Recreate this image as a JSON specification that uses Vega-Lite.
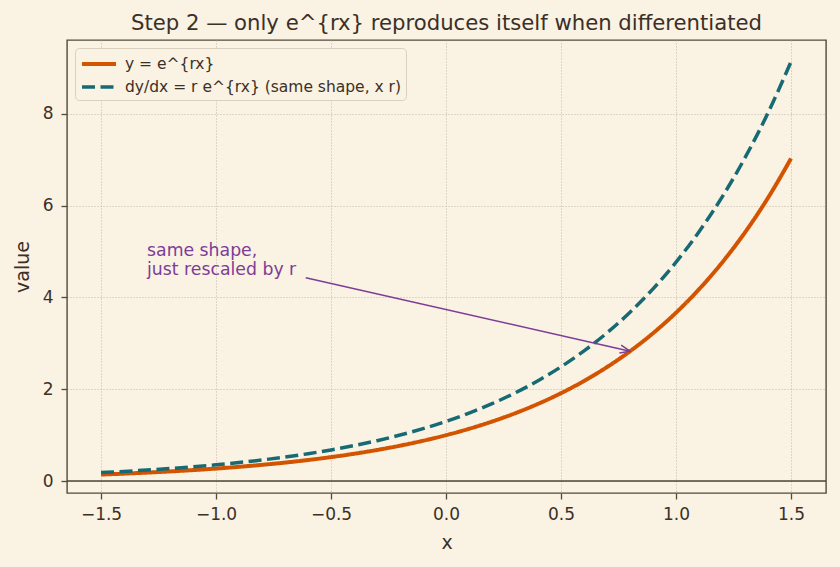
{
  "$schema": "https://vega.github.io/schema/vega-lite/v6.json",
  "autosize": "none",
  "width": 759,
  "height": 453,
  "padding": {"left": 67, "top": 40, "right": 14, "bottom": 74},
  "background": "#faf2e2",
  "config": {
    "font": "DejaVu Sans",
    "view": {"fill": "#faf2e2", "stroke": "#54483b", "strokeWidth": 1.4},
    "axis": {
      "domain": false,
      "tickColor": "#54483b",
      "tickSize": 6,
      "tickWidth": 1.3,
      "labelColor": "#3a3028",
      "labelFontSize": 17,
      "labelPadding": 7,
      "titleColor": "#3a3028",
      "titleFontSize": 19,
      "titleFontWeight": "normal",
      "gridColor": "#b4aa98",
      "gridDash": [1, 2],
      "gridWidth": 0.8
    }
  },
  "title": {
    "text": "Step 2 — only e^{rx} reproduces itself when differentiated",
    "fontSize": 21.2,
    "fontWeight": "normal",
    "color": "#3a3028",
    "offset": 6
  },
  "datasets": {
    "curves": [
      {"x": -1.5, "series": "y = e^{rx}", "value": 0.1423},
      {"x": -1.4, "series": "y = e^{rx}", "value": 0.1620},
      {"x": -1.3, "series": "y = e^{rx}", "value": 0.1845},
      {"x": -1.2, "series": "y = e^{rx}", "value": 0.2101},
      {"x": -1.1, "series": "y = e^{rx}", "value": 0.2393},
      {"x": -1.0, "series": "y = e^{rx}", "value": 0.2725},
      {"x": -0.9, "series": "y = e^{rx}", "value": 0.3104},
      {"x": -0.8, "series": "y = e^{rx}", "value": 0.3535},
      {"x": -0.7, "series": "y = e^{rx}", "value": 0.4025},
      {"x": -0.6, "series": "y = e^{rx}", "value": 0.4584},
      {"x": -0.5, "series": "y = e^{rx}", "value": 0.5220},
      {"x": -0.4, "series": "y = e^{rx}", "value": 0.5945},
      {"x": -0.3, "series": "y = e^{rx}", "value": 0.6771},
      {"x": -0.2, "series": "y = e^{rx}", "value": 0.7711},
      {"x": -0.1, "series": "y = e^{rx}", "value": 0.8781},
      {"x": 0.0, "series": "y = e^{rx}", "value": 1.0},
      {"x": 0.1, "series": "y = e^{rx}", "value": 1.1388},
      {"x": 0.2, "series": "y = e^{rx}", "value": 1.2969},
      {"x": 0.3, "series": "y = e^{rx}", "value": 1.4770},
      {"x": 0.4, "series": "y = e^{rx}", "value": 1.6820},
      {"x": 0.5, "series": "y = e^{rx}", "value": 1.9155},
      {"x": 0.6, "series": "y = e^{rx}", "value": 2.1815},
      {"x": 0.7, "series": "y = e^{rx}", "value": 2.4843},
      {"x": 0.8, "series": "y = e^{rx}", "value": 2.8292},
      {"x": 0.9, "series": "y = e^{rx}", "value": 3.2220},
      {"x": 1.0, "series": "y = e^{rx}", "value": 3.6693},
      {"x": 1.1, "series": "y = e^{rx}", "value": 4.1787},
      {"x": 1.2, "series": "y = e^{rx}", "value": 4.7588},
      {"x": 1.3, "series": "y = e^{rx}", "value": 5.4195},
      {"x": 1.4, "series": "y = e^{rx}", "value": 6.1719},
      {"x": 1.5, "series": "y = e^{rx}", "value": 7.0287},
      {"x": -1.5, "series": "dy/dx = r e^{rx} (same shape, x r)", "value": 0.1850},
      {"x": -1.4, "series": "dy/dx = r e^{rx} (same shape, x r)", "value": 0.2106},
      {"x": -1.3, "series": "dy/dx = r e^{rx} (same shape, x r)", "value": 0.2399},
      {"x": -1.2, "series": "dy/dx = r e^{rx} (same shape, x r)", "value": 0.2731},
      {"x": -1.1, "series": "dy/dx = r e^{rx} (same shape, x r)", "value": 0.3111},
      {"x": -1.0, "series": "dy/dx = r e^{rx} (same shape, x r)", "value": 0.3543},
      {"x": -0.9, "series": "dy/dx = r e^{rx} (same shape, x r)", "value": 0.4035},
      {"x": -0.8, "series": "dy/dx = r e^{rx} (same shape, x r)", "value": 0.4596},
      {"x": -0.7, "series": "dy/dx = r e^{rx} (same shape, x r)", "value": 0.5233},
      {"x": -0.6, "series": "dy/dx = r e^{rx} (same shape, x r)", "value": 0.5959},
      {"x": -0.5, "series": "dy/dx = r e^{rx} (same shape, x r)", "value": 0.6786},
      {"x": -0.4, "series": "dy/dx = r e^{rx} (same shape, x r)", "value": 0.7729},
      {"x": -0.3, "series": "dy/dx = r e^{rx} (same shape, x r)", "value": 0.8802},
      {"x": -0.2, "series": "dy/dx = r e^{rx} (same shape, x r)", "value": 1.0024},
      {"x": -0.1, "series": "dy/dx = r e^{rx} (same shape, x r)", "value": 1.1415},
      {"x": 0.0, "series": "dy/dx = r e^{rx} (same shape, x r)", "value": 1.3},
      {"x": 0.1, "series": "dy/dx = r e^{rx} (same shape, x r)", "value": 1.4804},
      {"x": 0.2, "series": "dy/dx = r e^{rx} (same shape, x r)", "value": 1.6860},
      {"x": 0.3, "series": "dy/dx = r e^{rx} (same shape, x r)", "value": 1.9201},
      {"x": 0.4, "series": "dy/dx = r e^{rx} (same shape, x r)", "value": 2.1866},
      {"x": 0.5, "series": "dy/dx = r e^{rx} (same shape, x r)", "value": 2.4902},
      {"x": 0.6, "series": "dy/dx = r e^{rx} (same shape, x r)", "value": 2.8360},
      {"x": 0.7, "series": "dy/dx = r e^{rx} (same shape, x r)", "value": 3.2296},
      {"x": 0.8, "series": "dy/dx = r e^{rx} (same shape, x r)", "value": 3.6780},
      {"x": 0.9, "series": "dy/dx = r e^{rx} (same shape, x r)", "value": 4.1886},
      {"x": 1.0, "series": "dy/dx = r e^{rx} (same shape, x r)", "value": 4.7701},
      {"x": 1.1, "series": "dy/dx = r e^{rx} (same shape, x r)", "value": 5.4323},
      {"x": 1.2, "series": "dy/dx = r e^{rx} (same shape, x r)", "value": 6.1864},
      {"x": 1.3, "series": "dy/dx = r e^{rx} (same shape, x r)", "value": 7.0454},
      {"x": 1.4, "series": "dy/dx = r e^{rx} (same shape, x r)", "value": 8.0235},
      {"x": 1.5, "series": "dy/dx = r e^{rx} (same shape, x r)", "value": 9.1373}
    ],
    "arrow": [
      {"x": -0.61, "value": 4.43, "x_end": 0.8, "value_end": 2.83}
    ],
    "note": [
      {"x": -1.3, "value": 4.5, "label": ["same shape,", "just rescaled by r"]}
    ]
  },
  "layer": [
    {
      "data": {"values": [{"value": 0}]},
      "mark": {"type": "rule", "color": "#4d4238", "strokeWidth": 1.4},
      "encoding": {
        "y": {"field": "value", "type": "quantitative", "scale": {"domain": [-0.26, 9.61], "nice": false}}
      }
    },
    {
      "data": {"name": "curves"},
      "mark": {"type": "line", "interpolate": "monotone", "strokeCap": "butt"},
      "encoding": {
        "x": {
          "field": "x", "type": "quantitative",
          "scale": {"domain": [-1.648, 1.652], "nice": false, "zero": false},
          "axis": {"values": [-1.5, -1.0, -0.5, 0.0, 0.5, 1.0, 1.5], "format": ".1f", "title": "x", "titlePadding": 11}
        },
        "y": {
          "field": "value", "type": "quantitative",
          "scale": {"domain": [-0.26, 9.61], "nice": false},
          "axis": {"values": [0, 2, 4, 6, 8], "format": "d", "title": "value", "titlePadding": 10, "labelPadding": 8}
        },
        "color": {
          "field": "series", "type": "nominal",
          "scale": {"domain": ["y = e^{rx}", "dy/dx = r e^{rx} (same shape, x r)"], "range": ["#d35400", "#176a74"]},
          "legend": {
            "title": null, "orient": "none", "legendX": 8, "legendY": 8,
            "fillColor": "#faf2e2", "strokeColor": "#d9d0c0", "cornerRadius": 4,
            "padding": 4, "symbolType": "M -1.7 0 L 1.7 0", "symbolSize": 400,
            "symbolOffset": 8, "symbolStrokeWidth": 3.8, "labelFontSize": 15.5, "labelColor": "#3a3028",
            "labelLimit": 0, "rowPadding": 2, "labelOffset": 14
          }
        },
        "strokeDash": {
          "field": "series", "type": "nominal",
          "scale": {"domain": ["y = e^{rx}", "dy/dx = r e^{rx} (same shape, x r)"], "range": [[1, 0], [13, 5.5]]},
          "legend": {
            "title": null, "orient": "none", "legendX": 8, "legendY": 8,
            "fillColor": "#faf2e2", "strokeColor": "#d9d0c0", "cornerRadius": 4,
            "padding": 4, "symbolType": "M -1.7 0 L 1.7 0", "symbolSize": 400,
            "symbolOffset": 8, "symbolStrokeWidth": 3.8, "labelFontSize": 15.5, "labelColor": "#3a3028",
            "labelLimit": 0, "rowPadding": 2, "labelOffset": 14
          }
        },
        "strokeWidth": {
          "field": "series", "type": "nominal",
          "scale": {"domain": ["y = e^{rx}", "dy/dx = r e^{rx} (same shape, x r)"], "range": [4, 3.5]},
          "legend": null
        }
      }
    },
    {
      "data": {"name": "arrow"},
      "mark": {"type": "rule", "color": "#7d3c98", "strokeWidth": 1.5},
      "encoding": {
        "x": {"field": "x", "type": "quantitative"},
        "y": {"field": "value", "type": "quantitative"},
        "x2": {"field": "x_end"},
        "y2": {"field": "value_end"}
      }
    },
    {
      "data": {"name": "arrow"},
      "mark": {
        "type": "point",
        "shape": "M -2 -0.8 L 0 0 L -2 0.8",
        "filled": false,
        "color": "#7d3c98",
        "strokeWidth": 1.5,
        "size": 100,
        "angle": 12.4,
        "opacity": 1
      },
      "encoding": {
        "x": {"field": "x_end", "type": "quantitative"},
        "y": {"field": "value_end", "type": "quantitative"}
      }
    },
    {
      "data": {"name": "note"},
      "mark": {"type": "text", "align": "left", "baseline": "alphabetic", "dy": -19, "fontSize": 17.3, "lineHeight": 19, "color": "#7d3c98"},
      "encoding": {
        "x": {"field": "x", "type": "quantitative"},
        "y": {"field": "value", "type": "quantitative"},
        "text": {"field": "label"}
      }
    }
  ]
}
